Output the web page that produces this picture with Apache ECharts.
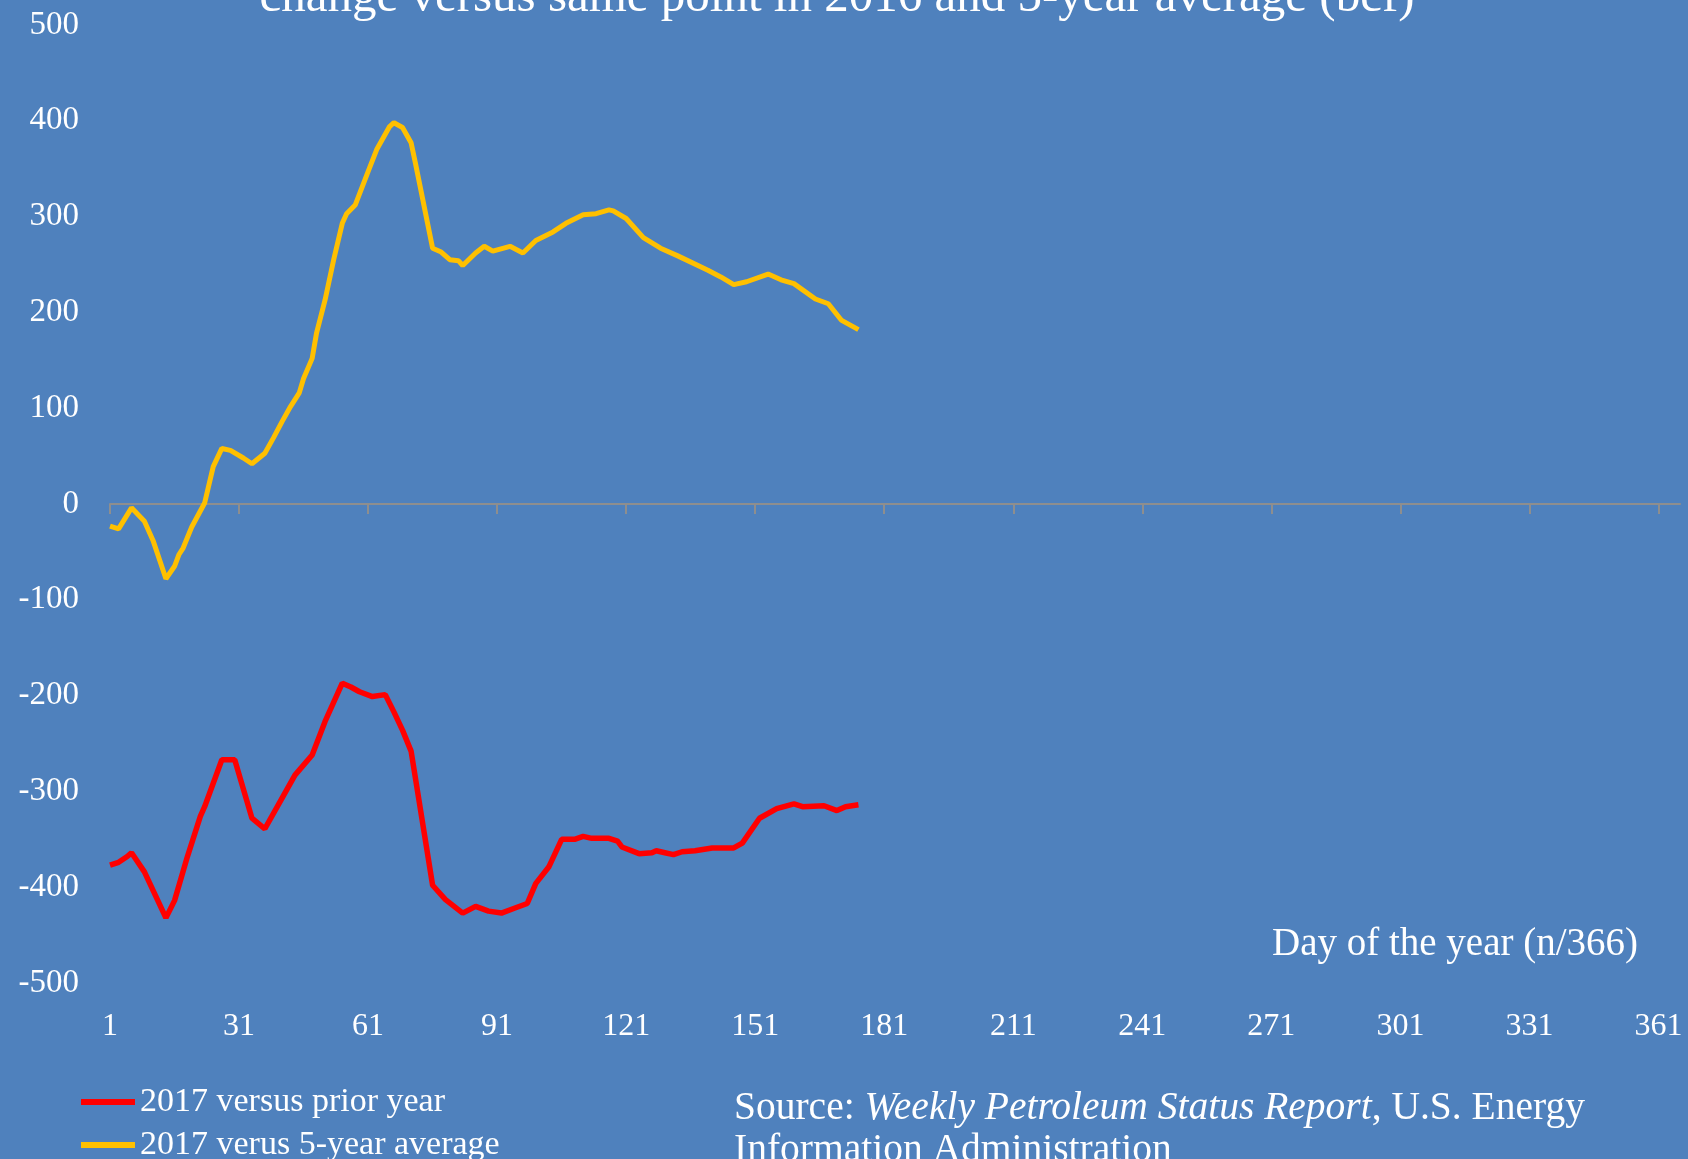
<!DOCTYPE html>
<html>
<head>
<meta charset="utf-8">
<script src="https://cdn.jsdelivr.net/npm/echarts@6/dist/echarts.min.js"></script>
<style>
  html, body { margin: 0; padding: 0; background: #4f81bd; }
  #chart { width: 1688px; height: 1159px; }
</style>
</head>
<body>
<div id="chart"></div>
<script>
// day-of-year axis, 1..366
var days = [];
for (var d = 1; d <= 366; d++) days.push(String(d));

var yTicks = { min: -500, max: 500, step: 100 };

// 2017 versus prior year (bcf)
var priorDays = [1, 3, 5, 6, 9, 14, 16, 19, 22, 23, 27, 30, 34, 37, 41, 44, 48, 51, 55, 57, 59, 62, 65, 67, 69, 71,
  76, 79, 83, 86, 89, 92, 95, 98, 100, 103, 106, 109, 111, 113, 117, 119, 120, 124, 127, 128, 130, 132, 134, 137,
  141, 146, 148, 152, 156, 160, 162, 167, 170, 172, 175];
var priorValues = [-377, -374, -368, -364, -384, -432, -414, -368, -326, -316, -267, -267, -328, -339, -307, -283,
  -262, -227, -187, -191, -196, -201, -199, -217, -236, -258, -398, -413, -427, -420, -425, -427, -422, -417, -396,
  -379, -350, -350, -347, -349, -349, -352, -358, -365, -364, -362, -364, -366, -363, -362, -359, -359, -354, -328,
  -318, -313, -316, -315, -320, -316, -314];

// 2017 versus 5-year average (bcf)
var avgDays = [1, 3, 6, 9, 11, 14, 16, 17, 18, 20, 23, 25, 27, 29, 32, 34, 37, 39, 41, 43, 45, 46, 48, 49, 51, 53,
  55, 56, 58, 61, 63, 66, 67, 69, 71, 72, 76, 78, 80, 82, 83, 86, 88, 90, 94, 97, 100, 104, 107, 111, 114, 117, 118,
  121, 125, 129, 133, 140, 143, 146, 149, 154, 157, 160, 165, 168, 171, 175];
var avgValues = [-23, -26, -4, -18, -38, -78, -65, -53, -46, -24, 1, 39, 58, 56, 48, 42, 53, 69, 86, 102, 116, 131,
  152, 178, 213, 255, 293, 303, 312, 347, 370, 394, 398, 393, 377, 356, 267, 263, 255, 254, 249, 262, 269, 264, 269,
  262, 275, 284, 293, 302, 303, 307, 306, 298, 278, 267, 259, 244, 237, 229, 232, 240, 234, 230, 214, 209, 192, 182];

var seriesNames = ['2017 versus prior year', '2017 verus 5-year average'];

function pairs(xs, ys) {
  return xs.map(function (x, i) { return [String(x), ys[i]]; });
}

var font = 'Liberation Serif';

// one legend box per row so they stack like the original
function legendRow(name, top) {
  return {
    left: 81,
    top: top,
    padding: 0,
    icon: 'rect',
    itemWidth: 54,
    itemHeight: 6,
    textStyle: { color: '#fff', fontFamily: font, fontSize: 34, lineHeight: 34 },
    data: [name]
  };
}

var chart = echarts.init(document.getElementById('chart'));

chart.setOption({
  backgroundColor: '#4f81bd',
  animation: false,
  grid: { left: 110, right: 8, top: 25, bottom: 176 },
  legend: [legendRow(seriesNames[0], 1085), legendRow(seriesNames[1], 1128)],
  xAxis: [{
    type: 'category',
    data: days,
    boundaryGap: false,
    axisLine: { onZero: true, lineStyle: { color: '#8e8e8e', width: 2 } },
    axisTick: { interval: 29, length: 10, lineStyle: { color: '#8e8e8e', width: 2 } },
    axisLabel: { show: false },
    splitLine: { show: false }
  }, {
    type: 'category',
    data: days,
    position: 'bottom',
    boundaryGap: false,
    axisLine: { show: false },
    axisTick: { show: false },
    axisLabel: { interval: 29, margin: 28, color: '#fff', fontFamily: font, fontSize: 32 },
    splitLine: { show: false }
  }],
  yAxis: {
    type: 'value',
    min: yTicks.min,
    max: yTicks.max,
    interval: yTicks.step,
    axisLine: { show: false },
    axisTick: { show: false },
    splitLine: { show: false },
    axisLabel: { margin: 31, color: '#fff', fontFamily: font, fontSize: 33 }
  },
  graphic: [{
    type: 'text',
    x: 837, y: -2,
    style: {
      text: 'change versus same point in 2016 and 5-year average (bcf)',
      fill: '#fff', font: '49px "Liberation Serif"', align: 'center', verticalAlign: 'middle'
    }
  }, {
    type: 'text',
    x: 1272, y: 945,
    style: {
      text: 'Day of the year (n/366)',
      fill: '#fff', font: '39px "Liberation Serif"', align: 'left', verticalAlign: 'middle'
    }
  }, {
    type: 'text',
    x: 734, y: 1088,
    style: {
      text: '{n|Source: }{i|Weekly Petroleum Status Report}{n|, U.S. Energy}\n{n|Information Administration}',
      fill: '#fff',
      verticalAlign: 'top',
      rich: {
        n: { fontFamily: font, fontSize: 39.5, color: '#fff', lineHeight: 42 },
        i: { fontFamily: font, fontSize: 39.5, fontStyle: 'italic', color: '#fff', lineHeight: 42 }
      }
    }
  }],
  series: [{
    name: seriesNames[0],
    type: 'line',
    xAxisIndex: 0,
    symbol: 'none',
    color: '#ff0000',
    lineStyle: { color: '#ff0000', width: 5.5 },
    data: pairs(priorDays, priorValues)
  }, {
    name: seriesNames[1],
    type: 'line',
    xAxisIndex: 0,
    symbol: 'none',
    color: '#ffc000',
    lineStyle: { color: '#ffc000', width: 5 },
    data: pairs(avgDays, avgValues)
  }]
});
</script>
</body>
</html>
